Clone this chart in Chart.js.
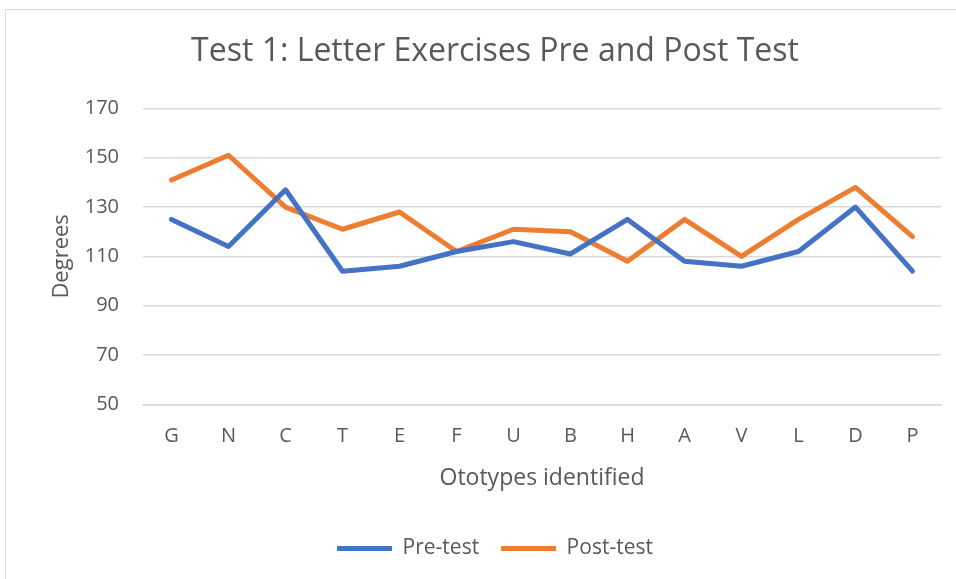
<!DOCTYPE html>
<html lang="en">
<head>
  <meta charset="UTF-8" />
  <title>Test 1: Letter Exercises Pre and Post Test</title>
  <script src="https://cdn.jsdelivr.net/npm/chart.js"></script>
  <style>
    body {
      margin: 0;
      background: #ffffff;
      font-family: "Open Sans", sans-serif;
    }

    .marco {
      position: absolute;
      left: 5px;
      top: 9px;
      width: 970px;
      height: 600px;
      border: 1px solid #d9d9d9;
    }

    .grafica {
      position: absolute;
      left: 0;
      top: 0;
      width: 956px;
      height: 579px;
    }
  </style>
</head>
<body>
  <div class="marco"></div>
  <div class="grafica">
    <canvas id="graficaTest"></canvas>
  </div>
<script>
  // Datos
  const letras = ['G', 'N', 'C', 'T', 'E', 'F', 'U', 'B', 'H', 'A', 'V', 'L', 'D', 'P'];
  const preTest = [125, 114, 137, 104, 106, 112, 116, 111, 125, 108, 106, 112, 130, 104];
  const postTest = [141, 151, 130, 121, 128, 112, 121, 120, 108, 125, 110, 125, 138, 118];

  const gris = '#595959';
  const fuente = '"Open Sans", sans-serif';

  const ctx = document.getElementById('graficaTest').getContext('2d');
  new Chart(ctx, {
    type: 'line',
    data: {
      labels: letras,
      datasets: [
        {
          label: 'Pre-test',
          data: preTest,
          borderColor: '#4472c4',
          backgroundColor: '#4472c4',
          borderWidth: 5,
          borderCapStyle: 'round',
          borderJoinStyle: 'round',
          pointRadius: 0,
          tension: 0
        },
        {
          label: 'Post-test',
          data: postTest,
          borderColor: '#ed7d31',
          backgroundColor: '#ed7d31',
          borderWidth: 5,
          borderCapStyle: 'round',
          borderJoinStyle: 'round',
          pointRadius: 0,
          tension: 0
        }
      ]
    },
    options: {
      responsive: true,
      maintainAspectRatio: false,
      animation: false,
      layout: { padding: { left: 49, right: 15, top: 33, bottom: 10 } },
      plugins: {
        title: {
          display: true,
          text: 'Test 1: Letter Exercises Pre and Post Test',
          color: gris,
          font: { family: fuente, size: 32, weight: 'normal' },
          padding: { top: 0, bottom: 37 }
        },
        legend: {
          position: 'bottom',
          labels: {
            color: gris,
            font: { family: fuente, size: 21 },
            usePointStyle: true,
            pointStyle: 'line',
            pointStyleWidth: 55,
            padding: 22
          }
        },
        tooltip: { enabled: false }
      },
      scales: {
        x: {
          offset: true,
          grid: { display: false },
          border: { color: '#d9d9d9', width: 1.5 },
          ticks: { color: gris, font: { family: fuente, size: 20 }, padding: 12 },
          title: {
            display: true,
            text: 'Ototypes identified',
            color: gris,
            font: { family: fuente, size: 23 },
            padding: { top: 4, bottom: 24 }
          }
        },
        y: {
          min: 50,
          max: 170,
          // ancho fijo del eje para que el área de trazado empiece donde en el original
          afterFit: (escala) => { escala.width = 94; },
          ticks: { stepSize: 20, color: gris, font: { family: fuente, size: 20 }, padding: 24 },
          grid: { color: '#d9d9d9', lineWidth: 1.5, drawTicks: false },
          border: { display: false },
          title: {
            display: true,
            text: 'Degrees',
            color: gris,
            font: { family: fuente, size: 22 },
            padding: { top: 0, bottom: 8 }
          }
        }
      }
    }
  });
</script>
</body>
</html>
